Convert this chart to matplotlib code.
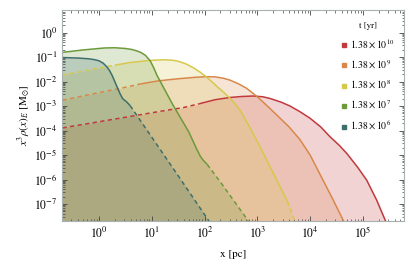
import numpy as np
import matplotlib
matplotlib.use('Agg')
import matplotlib.pyplot as plt
from matplotlib.lines import Line2D
from matplotlib.ticker import FixedLocator, LogFormatterMathtext, NullFormatter

plt.rcParams['font.family'] = 'STIXGeneral'
plt.rcParams['mathtext.fontset'] = 'stix'

# --- data (log10 x [pc], log10 y) ---
labels = [r'$1.38\times10^{10}$', r'$1.38\times10^{9}$', r'$1.38\times10^{8}$',
          r'$1.38\times10^{7}$', r'$1.38\times10^{6}$']
colors = ['#c1393c', '#d8884a', '#d6c84b', '#6c9a3b', '#3e6f6c']

red_lx = [-0.69, 0.0, 0.6, 1.2, 1.6, 1.91, 2.2, 2.48, 2.7, 2.92, 3.1, 3.24, 3.45, 3.62, 3.8, 4.0,
          4.2, 4.375, 4.55, 4.7, 4.9, 5.07, 5.26, 5.42, 5.47]
red_ly = [-3.89, -3.64, -3.42, -3.2, -3.06, -2.9, -2.74, -2.65, -2.61, -2.59, -2.62, -2.69, -2.84,
          -3.0, -3.22, -3.5, -3.85, -4.25, -4.6, -4.95, -5.5, -6.02, -6.84, -7.65, -7.95]

orange_lx = [-0.69, 0.0, 0.4, 0.78, 1.1, 1.3, 1.53, 1.8, 2.04, 2.2, 2.35, 2.48, 2.65, 2.8, 2.93,
             3.05, 3.2, 3.37, 3.6, 3.8, 4.0, 4.19, 4.44, 4.63, 4.68]
orange_ly = [-2.76, -2.45, -2.28, -2.1, -1.98, -1.93, -1.88, -1.83, -1.80, -1.81, -1.86, -1.94,
             -2.1, -2.28, -2.5, -2.72, -3.02, -3.37, -3.85, -4.35, -5.0, -5.8, -6.85, -7.68, -7.95]

yellow_lx = [-0.69, 0.0, 0.3, 0.6, 0.95, 1.22, 1.4, 1.5, 1.65, 1.79, 1.92, 2.04, 2.15, 2.25, 2.37,
             2.48, 2.58, 2.67, 2.76, 2.86, 3.05, 3.24, 3.43, 3.57, 3.71, 3.76]
yellow_ly = [-1.73, -1.45, -1.33, -1.22, -1.14, -1.11, -1.13, -1.17, -1.28, -1.44, -1.62, -1.82,
             -2.03, -2.23, -2.45, -2.68, -2.92, -3.16, -3.5, -3.88, -4.66, -5.48, -6.29, -6.9,
             -7.68, -7.95]

green_lx = [-0.69, -0.5, -0.3, 0.1, 0.3, 0.5, 0.62, 0.72, 0.8, 0.88, 0.97, 1.04, 1.1, 1.25, 1.4,
            1.55, 1.7, 1.85, 1.92, 1.97, 2.05, 2.3, 2.8, 2.9]
green_ly = [-0.81, -0.76, -0.71, -0.63, -0.62, -0.65, -0.69, -0.75, -0.82, -0.93, -1.15, -1.45,
            -1.75, -2.35, -2.95, -3.5, -4.05, -4.75, -5.05, -5.2, -5.38, -6.1, -7.6, -7.95]

teal_lx = [-0.69, -0.4, -0.2, -0.1, 0.0, 0.08, 0.15, 0.2, 0.25, 0.33, 0.40, 0.45, 0.52, 0.59,
           0.714, 1.515, 2.07, 2.16]
teal_ly = [-1.02, -1.04, -1.07, -1.10, -1.15, -1.25, -1.4, -1.55, -1.75, -2.15, -2.5, -2.7,
           -2.82, -2.98, -3.37, -5.89, -7.65, -7.95]

# solid parts as (start, end) index ranges; everything else dashed
series = [
    (red_lx, red_ly, [(5, len(red_lx))]),
    (orange_lx, orange_ly, [(3, len(orange_lx))]),
    (yellow_lx, yellow_ly, [(2, 24)]),
    (green_lx, green_ly, [(0, 21)]),
    (teal_lx, teal_ly, [(0, 14)]),
]

fig = plt.figure(figsize=(4.15, 2.64), dpi=100)
ax = fig.add_axes([0.1506, 0.164, 0.8235, 0.798])

for (lx, ly, solid), c in zip(series, colors):
    x = 10 ** np.array(lx)
    y = 10 ** np.array(ly)
    ax.fill_between(x, y, 1e-10, color=c, alpha=0.22, lw=0)
    mask = np.zeros(len(x), bool)
    for i0, i1 in solid:
        ax.plot(x[i0:i1], y[i0:i1], color=c, lw=1.1, solid_capstyle='butt', solid_joinstyle='round')
        mask[i0:i1] = True
    # dashed pieces
    idx = np.where(~mask)[0]
    if len(idx):
        groups = np.split(idx, np.where(np.diff(idx) > 1)[0] + 1)
        for g in groups:
            a = max(g[0] - 1, 0)
            b = min(g[-1] + 2, len(x))
            ax.plot(x[a:b], y[a:b], color=c, lw=1.1, ls=(0, (2.8, 2.2)))

ax.set_xscale('log')
ax.set_yscale('log')
ax.set_xlim(0.204, 6.05e5)
ax.set_ylim(2.1e-8, 8.3)

xmaj = [10.0 ** k for k in range(0, 6)]
ymaj = [10.0 ** k for k in range(-7, 1)]
xmin = [m * 10.0 ** k for k in range(-1, 6) for m in range(2, 10) if 0.204 < m * 10.0 ** k < 6.05e5]
ymin = [m * 10.0 ** k for k in range(-8, 1) for m in range(2, 10) if 2.1e-8 < m * 10.0 ** k < 8.3]
ax.xaxis.set_major_locator(FixedLocator(xmaj))
ax.yaxis.set_major_locator(FixedLocator(ymaj))
ax.xaxis.set_minor_locator(FixedLocator(xmin))
ax.yaxis.set_minor_locator(FixedLocator(ymin))
ax.xaxis.set_major_formatter(LogFormatterMathtext())
ax.yaxis.set_major_formatter(LogFormatterMathtext())
ax.xaxis.set_minor_formatter(NullFormatter())
ax.yaxis.set_minor_formatter(NullFormatter())

ax.tick_params(which='both', direction='in', top=True, right=True, color='#444444', labelsize=8.5)
ax.tick_params(which='major', length=3.5, width=0.6)
ax.tick_params(which='minor', length=1.8, width=0.5)
for s in ax.spines.values():
    s.set_color('#a8b0b0')
    s.set_linewidth(0.8)

ax.set_xlabel('x [pc]', fontsize=8, labelpad=6)
ax.set_ylabel(r'$x^3\rho(x)_E\ [\mathrm{M}_{\odot}]$', fontsize=8, labelpad=1)

handles = [Line2D([], [], marker='s', ls='', color=c, ms=3.2) for c in colors]
leg = ax.legend(handles, labels, title='t [yr]', loc='upper right', frameon=False,
                fontsize=7, title_fontsize=6.5, labelspacing=0.8, handlelength=0.6,
                handletextpad=0.3, borderaxespad=0.6, bbox_to_anchor=(1.0, 0.99))

fig.savefig('out.png', dpi=100)
